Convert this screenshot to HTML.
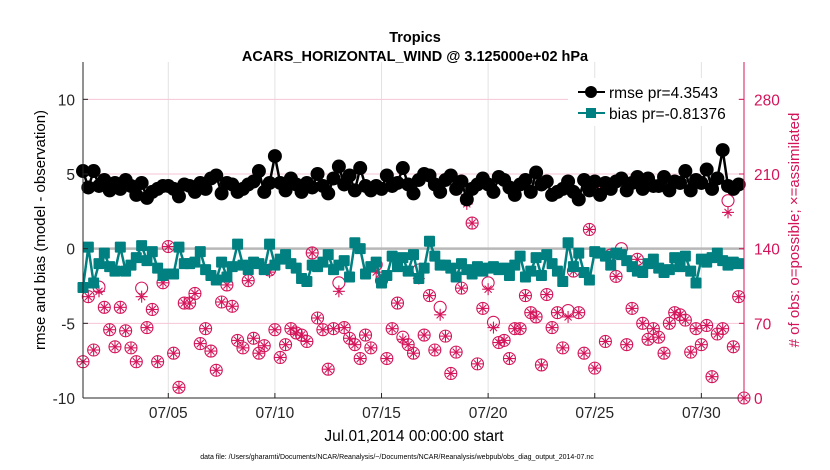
<!DOCTYPE html>
<html><head><meta charset="utf-8"><style>
html,body{margin:0;padding:0;background:#fff;}
svg{display:block;font-family:"Liberation Sans",sans-serif;}
</style></head><body>
<svg id="chart" width="830" height="470" viewBox="0 0 830 470">
<text x="415" y="42" text-anchor="middle" font-size="14.5" font-weight="bold">Tropics</text>
<text x="415" y="61" text-anchor="middle" font-size="14.5" font-weight="bold">ACARS_HORIZONTAL_WIND @ 3.125000e+02 hPa</text>
<g id="grid"></g>
<g id="marks"></g>
<g id="axes"></g>
<text transform="translate(45,230) rotate(-90)" text-anchor="middle" font-size="15">rmse and bias (model - observation)</text>
<text transform="translate(799,230) rotate(-90)" text-anchor="middle" font-size="15" fill="#d4145a"># of obs: o=possible; ×=assimilated</text>
<text x="414" y="441" text-anchor="middle" font-size="15.5">Jul.01,2014 00:00:00 start</text>
<text x="397" y="459" text-anchor="middle" font-size="7">data file: /Users/gharamti/Documents/NCAR/Reanalysis/~/Documents/NCAR/Reanalysis/webpub/obs_diag_output_2014-07.nc</text>
<g>
<rect x="568" y="78" width="170" height="48" fill="#fff"/>
<line x1="578" y1="92" x2="605" y2="92" stroke="#000" stroke-width="2"/>
<circle cx="591" cy="92" r="6" fill="#000"/>
<text x="609" y="98" font-size="15.5">rmse pr=4.3543</text>
<line x1="578" y1="113" x2="605" y2="113" stroke="#008080" stroke-width="2"/>
<rect x="586" y="108" width="10" height="10" fill="#008080"/>
<text x="609" y="119" font-size="15.5">bias pr=-0.81376</text>
</g>
</svg>
<script>
const rmse=[5.2,4.1,5.2,4.2, 4.6,3.9,4.4,4.0, 4.6,4.2,3.6,4.4, 3.4,3.8,4.0,4.2, 4.2,4.0,3.5,4.3, 4.2,3.8,4.4,4.0, 4.7,4.9,3.7,4.4, 4.3,3.8,4.0,4.3, 4.5,5.2,3.8,4.4, 6.2,4.4,3.9,4.7, 4.3,3.8,4.4,4.1, 5.0,4.2,3.7,4.7, 5.5,4.3,4.9,3.9, 5.4,4.2,3.9,4.2, 4.0,4.9,4.2,4.4, 5.4,4.3,3.7,4.6, 5.0,4.9,4.3,3.8, 4.6,4.9,4.0,4.5, 3.3,4.0,4.3,4.7, 4.3,3.8,4.8,4.6, 4.1,3.6,4.3,4.6, 3.8,5.1,4.3,4.5, 3.6,3.8,4.0,4.5, 3.8,3.3,4.6,3.9, 4.5,3.6,4.4,4.0, 4.5,4.7,3.9,4.4, 4.8,4.0,4.7,4.2, 4.2,4.8,3.9,4.5, 4.4,5.2,3.9,4.6, 4.4,5.3,4.0,4.7, 6.6,4.2,4.0,4.3];
const bias=[-2.6,0.1,-2.3,-1.0, -0.3,-1.2,-1.5,0.1, -1.5,-1.1,-0.6,0.2, -0.8,-0.2,-1.3,-1.8, -1.7,-1.7,0.1,-1.0, -1.0,-0.9,-0.2,-1.4, -1.8,-2.1,-0.9,-1.9, -1.2,0.3,-1.1,-1.4, -0.9,-1.0,-1.4,0.3, -1.1,-0.7,-0.4,-1.0, -1.3,-2.0,-2.2,-1.1, -1.2,-0.9,-0.4,-1.4, -1.1,-0.8,-1.9,0.4, 0.0,-1.7,-1.2,-0.9, -2.3,-1.8,-0.5,-1.2, -0.6,-1.5,-0.4,-2.0, -1.3,0.5,-0.5,-1.1, -1.1,-1.3,-1.9,-1.0, -1.4,-1.7,-1.2,-1.5, -1.3,-1.2,-1.4,-1.3, -1.8,-1.1,-0.5,-1.9, -1.5,-0.6,-1.8,-0.4, -1.0,-1.5,-2.2,0.4, -1.2,-0.3,-1.6,-2.1, -0.2,-0.3,-0.5,-1.1, -0.3,-0.4,-0.8,-1.2, -1.5,-1.6,-1.0,-0.7, -1.3,-1.6,-1.4,-0.6, -1.2,-0.5,-1.5,-2.3, -0.7,-0.9,-0.6,-0.3, -0.8,-1.1,-0.9,-1.0];
const possible=[34,95,45,104,85,64,48,85,63,47,34,103,66,83,34,108,142,42,10,89,89,98,51,65,44,26,90,106,86,54,47,110,56,42,49,120,64,38,50,65,61,59,53,136,75,64,27,65,108,66,56,50,37,59,47,125,110,37,65,89,57,50,42,120,59,96,45,85,58,23,43,103,193,164,32,84,108,71,52,54,37,65,65,96,80,76,31,97,66,80,47,82,119,80,42,158,28,199,53,134,114,140,50,84,130,70,55,65,57,42,70,80,78,73,43,65,50,68,20,60,65,185,48,95,0];
const assimilated=[34,95,45,100,85,64,48,85,63,47,34,95,66,83,34,108,142,42,10,89,89,98,51,65,44,26,90,106,86,54,47,110,56,42,49,118,64,38,50,65,61,59,53,136,75,64,27,65,100,66,56,50,37,59,47,118,110,37,65,89,55,50,42,112,59,96,45,78,58,23,43,103,182,164,32,84,102,66,52,54,37,65,65,96,80,76,31,97,66,80,47,76,119,80,42,158,28,199,53,134,114,136,50,84,130,70,55,65,57,42,70,80,78,73,43,65,50,68,20,60,65,174,48,95,0];
const xTicks=[4,9,14,19,24,29];
const xTickLabels=["07/05","07/10","07/15","07/20","07/25","07/30"];
const yTicks=[10,5,0,-5,-10];
const rTicks=[0,70,140,210,280];

const NS="http://www.w3.org/2000/svg";
const L=83,R=744,T=62,B=398;
const xScale=d=>L+(R-L)*d/31;
const yScale=v=>B-(v+10)*(B-T)/22.5;
const rScale=v=>B-v*(B-T)/315;
const MAG="#d4145a";
function mk(tag,attrs,parent){const e=document.createElementNS(NS,tag);for(const k in attrs)e.setAttribute(k,attrs[k]);parent.appendChild(e);return e;}
const grid=document.getElementById('grid'),marks=document.getElementById('marks'),axes=document.getElementById('axes');

xTicks.forEach(d=>{const g=mk('line',{x1:xScale(d),x2:xScale(d),y1:T,y2:B,stroke:'#e2e2e2','stroke-width':1},grid);

});
rTicks.forEach(v=>{const g=mk('line',{x1:L,x2:R,y1:rScale(v),y2:rScale(v),stroke:'#f6c6d6','stroke-width':1},grid);

});
const zl=mk('line',{x1:L,x2:R,y1:yScale(0),y2:yScale(0),stroke:'#b8b8b8','stroke-width':2.5},grid);



const step=(31)/124;
possible.forEach((v,i)=>{const x=xScale(i*step),y=rScale(v);
const c=mk('circle',{cx:x,cy:y,r:6,fill:'none',stroke:MAG,'stroke-width':1.1},marks);

});
assimilated.forEach((v,i)=>{const x=xScale(i*step),y=rScale(v);
const g=mk('g',{stroke:MAG,'stroke-width':1.1},marks);


[[0,6],[90,6],[45,5],[135,5]].forEach(([a,r])=>{const rad=a*Math.PI/180;mk('line',{x1:x-r*Math.cos(rad),y1:y-r*Math.sin(rad),x2:x+r*Math.cos(rad),y2:y+r*Math.sin(rad)},g);});});
const bp=mk('polyline',{points:bias.map((v,i)=>xScale(i*step)+','+yScale(v)).join(' '),fill:'none',stroke:'#008080','stroke-width':2.5},marks);


bias.forEach((v,i)=>{const s=mk('rect',{x:xScale(i*step)-5.5,y:yScale(v)-5.5,width:11,height:11,rx:1,fill:'#008080'},marks);

});
const rp=mk('polyline',{points:rmse.map((v,i)=>xScale(i*step)+','+yScale(v)).join(' '),fill:'none',stroke:'#000','stroke-width':2.5},marks);


rmse.forEach((v,i)=>{const c=mk('circle',{cx:xScale(i*step),cy:yScale(v),r:7,fill:'#000'},marks);

});

const la=mk('line',{x1:L,x2:L,y1:T,y2:B,stroke:'#262626','stroke-width':1},axes);


const ba=mk('line',{x1:L,x2:R,y1:B,y2:B,stroke:'#262626','stroke-width':1},axes);


const ra=mk('line',{x1:R,x2:R,y1:T,y2:B,stroke:MAG,'stroke-width':1},axes);


xTicks.forEach((d,i)=>{mk('line',{x1:xScale(d),x2:xScale(d),y1:B,y2:B-5,stroke:'#262626'},axes);
const t=mk('text',{x:xScale(d),y:B+20,'text-anchor':'middle','font-size':15.5,fill:'#262626'},axes);t.textContent=xTickLabels[i];

});
yTicks.forEach(v=>{mk('line',{x1:L,x2:L+5,y1:yScale(v),y2:yScale(v),stroke:'#262626'},axes);
const t=mk('text',{x:L-8,y:yScale(v)+6,'text-anchor':'end','font-size':15.5,fill:'#262626'},axes);t.textContent=v;

});
rTicks.forEach(v=>{mk('line',{x1:R,x2:R-5,y1:rScale(v),y2:rScale(v),stroke:MAG},axes);
const t=mk('text',{x:R+10,y:rScale(v)+6,'text-anchor':'start','font-size':15.5,fill:MAG},axes);t.textContent=v;

});
</script>
</body></html>
